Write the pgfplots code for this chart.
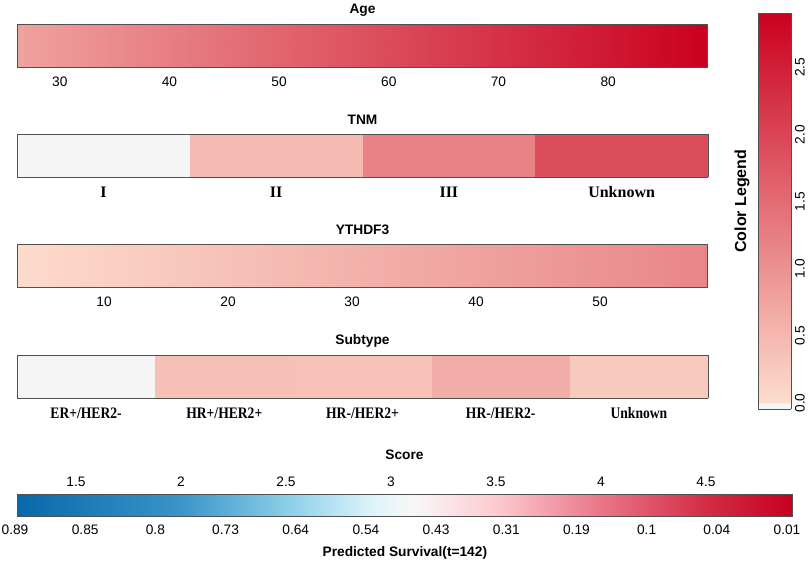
\documentclass[border=0pt]{standalone}
\usepackage{graphicx}
\usepackage{pgfplots}
\pgfplotsset{compat=1.18}
\usepackage{fontspec}
\setmainfont{Liberation Sans}
\newfontfamily\tnr{Liberation Serif}
\newcommand\fs{\fontsize{10.3}{12}\selectfont}
\newcommand\cat{\tnr\bfseries\fontsize{12}{14}\selectfont}
\definecolor{bord}{RGB}{80,80,80}
\pgfplotsset{
 colormap={leg}{rgb255(0cm)=(245,245,245) rgb255(4cm)=(245,245,245) rgb255(5cm)=(253,221,205) rgb255(295cm)=(202,0,32)},
 colormap={sc}{rgb255(0cm)=(8,104,170) rgb255(21cm)=(58,148,200) rgb255(35cm)=(140,207,232) rgb255(46cm)=(222,244,250) rgb255(51cm)=(248,248,248) rgb255(62cm)=(252,201,207) rgb255(75cm)=(234,119,137) rgb255(89cm)=(211,44,69) rgb255(100cm)=(200,0,32)},
 nbar/.style={view={0}{90}, scale only axis, width=518.25pt, height=32.25pt, anchor=north west,
   ymin=0, ymax=1, zmin=-1, zmax=5, ytick=\empty, ztick=\empty,
   major tick length=0pt, axis line style={bord, line width=0.75pt},
   colormap name=leg, point meta min=-0.045, point meta max=2.905,
   title style={at={(axis description cs:0.5,1)}, anchor=center, yshift=4.5pt, font=\bfseries\fs},
   xticklabel style={anchor=center, yshift=-11.25pt, font=\fs},
   /pgf/number format/assume math mode=true,
   axis on top},
}
\begin{document}
\begin{tikzpicture}
\path[use as bounding box] (0,0) rectangle (606.75pt,-426pt);
% Age
\begin{axis}[nbar, at={(12.75pt,-18pt)}, title={Age}, xmin=26.1, xmax=89.1, xtick={30,40,...,80}]
\addplot3[surf, shader=interp, mesh/cols=2, point meta=z] coordinates {(26.1,0,0.78) (89.1,0,2.9) (26.1,1,0.78) (89.1,1,2.9)};
\end{axis}
% TNM
\begin{axis}[nbar, at={(12.75pt,-100.5pt)}, title={TNM}, xmin=0, xmax=4, xtick={0.5,1.5,2.5,3.5},
  xticklabels={I,II,III,Unknown}, xticklabel style={font=\cat}]
\addplot3[surf, shader=interp, mesh/cols=8, point meta=z] coordinates {
(0,0,-0.03) (1,0,-0.03) (1,0,0.45) (2,0,0.45) (2,0,1.2) (3,0,1.2) (3,0,1.9) (4,0,1.9)
(0,1,-0.03) (1,1,-0.03) (1,1,0.45) (2,1,0.45) (2,1,1.2) (3,1,1.2) (3,1,1.9) (4,1,1.9)};
\end{axis}
% YTHDF3
\begin{axis}[nbar, at={(12.75pt,-183pt)}, title={YTHDF3}, xmin=2.98, xmax=58.7, xtick={10,20,...,50}]
\addplot3[surf, shader=interp, mesh/cols=2, point meta=z] coordinates {(2.98,0,0.02) (58.7,0,1.16) (2.98,1,0.02) (58.7,1,1.16)};
\end{axis}
% Subtype
\begin{axis}[nbar, at={(12.75pt,-266.25pt)}, title={Subtype}, xmin=0, xmax=5, xtick={0.5,1.5,2.5,3.5,4.5},
  xticklabels={\scalebox{0.85}[1]{ER+/HER2-},\scalebox{0.85}[1]{HR+/HER2+},\scalebox{0.85}[1]{HR-/HER2+},\scalebox{0.85}[1]{HR-/HER2-},\scalebox{0.85}[1]{Unknown}},
  xticklabel style={font=\cat}]
\addplot3[surf, shader=interp, mesh/cols=10, point meta=z] coordinates {
(0,0,-0.03) (1,0,-0.03) (1,0,0.39) (2,0,0.39) (2,0,0.37) (3,0,0.37) (3,0,0.63) (4,0,0.63) (4,0,0.27) (5,0,0.27)
(0,1,-0.03) (1,1,-0.03) (1,1,0.39) (2,1,0.39) (2,1,0.37) (3,1,0.37) (3,1,0.63) (4,1,0.63) (4,1,0.27) (5,1,0.27)};
\end{axis}
% Score bar (2D)
\begin{axis}[scale only axis, width=581.25pt, height=16.5pt, anchor=north west, at={(12.75pt,-370.5pt)},
  xmin=1.219, xmax=4.91, ymin=0, ymax=1, ytick=\empty, xtick={1.5,2,...,4.5}, xticklabel pos=top,
  major tick length=0pt, axis line style={bord, line width=0.75pt},
  colormap name=sc, point meta min=1.219, point meta max=4.91,
  title={Score}, title style={at={(axis description cs:0.5,1)}, anchor=center, yshift=23.25pt, font=\bfseries\fs},
  xticklabel style={anchor=center, yshift=9pt, font=\fs},
  /pgf/number format/assume math mode=true, axis on top]
\addplot[patch, patch type=rectangle, shader=interp, point meta=explicit] coordinates {
(1.219,0) [1.219] (2.0,0) [2.0] (2.0,1) [2.0] (1.219,1) [1.219]
(2.0,0) [2.0] (2.5,0) [2.5] (2.5,1) [2.5] (2.0,1) [2.0]
(2.5,0) [2.5] (2.9,0) [2.9] (2.9,1) [2.9] (2.5,1) [2.5]
(2.9,0) [2.9] (3.1,0) [3.1] (3.1,1) [3.1] (2.9,1) [2.9]
(3.1,0) [3.1] (3.5,0) [3.5] (3.5,1) [3.5] (3.1,1) [3.1]
(3.5,0) [3.5] (4.0,0) [4.0] (4.0,1) [4.0] (3.5,1) [3.5]
(4.0,0) [4.0] (4.5,0) [4.5] (4.5,1) [4.5] (4.0,1) [4.0]
(4.5,0) [4.5] (4.91,0) [4.91] (4.91,1) [4.91] (4.5,1) [4.5]
};
\end{axis}
% Survival labels
\begin{axis}[scale only axis, width=579pt, height=16.5pt, anchor=north west, at={(11.25pt,-370.5pt)},
  xmin=0, xmax=11, ymin=0, ymax=1, ytick=\empty, xtick={0,...,11},
  xticklabels={0.89,0.85,0.8,0.73,0.64,0.54,0.43,0.31,0.19,0.1,0.04,0.01},
  major tick length=0pt, axis line style={draw=none},
  xticklabel style={anchor=center, yshift=-10.5pt, font=\fs},
  xlabel={Predicted Survival(t=142)},
  every axis x label/.style={at={(axis description cs:0.505,0)}, anchor=center, yshift=-27.75pt, font=\bfseries\fs}]
\addplot[draw=none] coordinates {(0,0)};
\end{axis}
% Color legend
\begin{axis}[view={0}{90}, scale only axis, width=24.75pt, height=297pt, anchor=north west, at={(568.5pt,-9.75pt)},
  xmin=0, xmax=1, ymin=-0.045, ymax=2.905, zmin=-1, zmax=4,
  xtick=\empty, ztick=\empty, ytick={0,0.5,...,2.5},
  major tick length=0pt, axis line style={bord, line width=0.75pt},
  colormap name=leg, point meta min=-0.045, point meta max=2.905,
  /pgf/number format/assume math mode=true,
  yticklabel style={xshift=31.5pt, rotate=90, anchor=center, font=\fs, /pgf/number format/.cd, fixed, fixed zerofill, precision=1},
  ylabel={Color Legend},
  every axis y label/.style={at={(axis description cs:-0.485,0.525)}, anchor=center, rotate=90, font=\bfseries\fontsize{12}{14}\selectfont},
  axis on top]
\addplot3[surf, shader=interp, mesh/cols=2, point meta=z] coordinates {
(0,-0.045,-0.045) (1,-0.045,-0.045)
(0,-0.005,-0.005) (1,-0.005,-0.005)
(0,0.005,0.005) (1,0.005,0.005)
(0,1.45,1.45) (1,1.45,1.45)
(0,2.905,2.905) (1,2.905,2.905)};
\end{axis}
\end{tikzpicture}
\end{document}
